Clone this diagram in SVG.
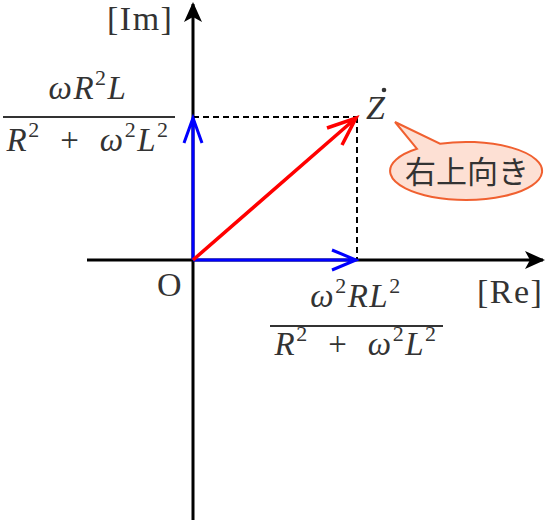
<svg xmlns="http://www.w3.org/2000/svg" width="548" height="520" viewBox="0 0 548 520">
<style>
.t{font-family:"Liberation Serif","DejaVu Serif",serif;fill:#333}
.m{font-style:italic}
.sup{font-size:22px;font-style:normal}
.f{font-size:33px;letter-spacing:1.5px}
.bar{stroke:#333;stroke-width:2}
.axis{stroke:#000;stroke-width:3;fill:none}
.blue{stroke:#0000ff;stroke-width:3;fill:none}
.red{stroke:#ff0000;stroke-width:3.5;fill:none}
.dash{stroke:#000;stroke-width:2;stroke-dasharray:6 4;fill:none}
.lbl{font-size:34px;letter-spacing:1.5px}
</style>
<defs>
<marker id="ah" viewBox="0 0 20 20" refX="18" refY="10" markerWidth="20" markerHeight="20" markerUnits="userSpaceOnUse" orient="auto">
<path d="M0,1 L20,10 L0,19 L5,10 Z" fill="#000"/>
</marker>
</defs>
<g id="connectors">
<line class="axis" x1="87" y1="260" x2="543" y2="260" marker-end="url(#ah)"/>
<line class="axis" x1="193" y1="520" x2="193" y2="4" marker-end="url(#ah)"/>
<line class="dash" x1="193" y1="117" x2="357" y2="117"/>
<line class="dash" x1="357" y1="117" x2="357" y2="260"/>
<path class="blue" d="M193,260 L193,118 M184,143 L193,118 L202,143"/>
<path class="blue" d="M193,260 L356,260 M332,250 L356,260 L332,270"/>
<path class="red" d="M193,260 L356,118 M327,128 L356,118 L342,145"/>
</g>
<g id="im-label"><text class="t lbl" x="107" y="30">[Im]</text></g>
<g id="re-label"><text class="t lbl" x="477" y="303">[Re]</text></g>
<g id="origin"><text class="t" font-size="34" x="157" y="296">O</text></g>
<g id="im-value">
<text class="t f" x="88" y="99" text-anchor="middle"><tspan class="m">ωR</tspan><tspan class="sup" dy="-14">2</tspan><tspan class="m" dy="14">L</tspan></text>
<line class="bar" x1="3" y1="117" x2="175" y2="117"/>
<text class="t f" x="88" y="151" text-anchor="middle"><tspan class="m">R</tspan><tspan class="sup" dy="-14">2</tspan><tspan dy="14" xml:space="preserve">  +  </tspan><tspan class="m">ω</tspan><tspan class="sup" dy="-14">2</tspan><tspan class="m" dy="14">L</tspan><tspan class="sup" dy="-14">2</tspan></text>
</g>
<g id="re-value">
<text class="t f" x="356" y="307" text-anchor="middle"><tspan class="m">ω</tspan><tspan class="sup" dy="-14">2</tspan><tspan class="m" dy="14">RL</tspan><tspan class="sup" dy="-14">2</tspan></text>
<line class="bar" x1="270" y1="326" x2="443" y2="326"/>
<text class="t f" x="356" y="355" text-anchor="middle"><tspan class="m">R</tspan><tspan class="sup" dy="-14">2</tspan><tspan dy="14" xml:space="preserve">  +  </tspan><tspan class="m">ω</tspan><tspan class="sup" dy="-14">2</tspan><tspan class="m" dy="14">L</tspan><tspan class="sup" dy="-14">2</tspan></text>
</g>
<g id="z-label">
<text class="t m" x="366" y="119" font-size="34">Z</text>
<circle cx="384" cy="90" r="2.3" fill="#333"/>
</g>
<g id="callout">
<path d="M417,148.8 L395,122 L440,143.7 A76,29 0 1 1 417,148.8 Z" fill="#fde0d4" stroke="#f06030" stroke-width="2"/>
<text x="467" y="183" text-anchor="middle" font-size="31" font-family="'Noto Sans CJK JP',sans-serif" fill="#333">右上向き</text>
</g>
</svg>
